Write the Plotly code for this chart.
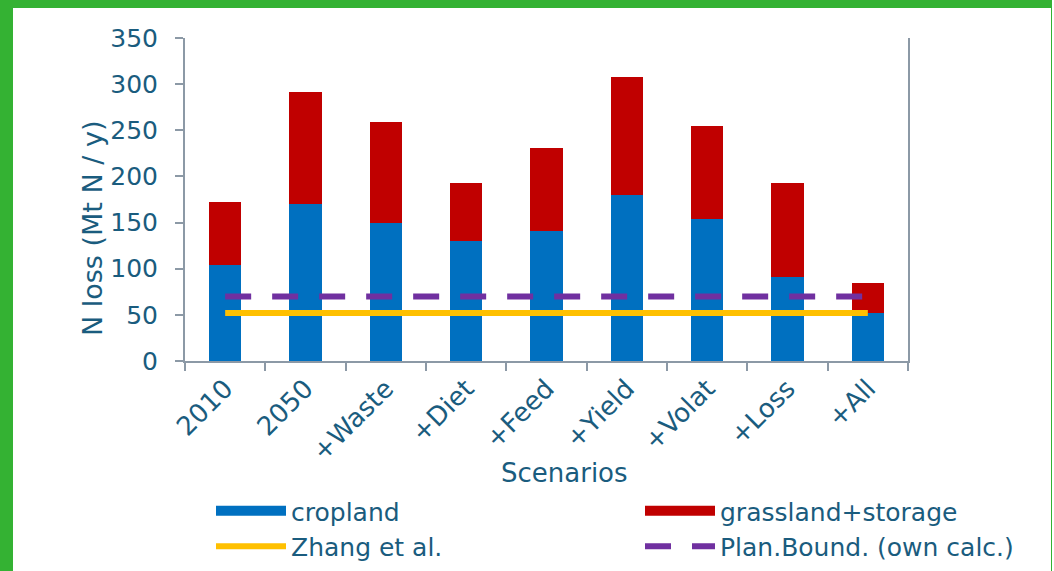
import plotly.graph_objects as go

scenarios = ["2010", "2050", "+Waste", "+Diet", "+Feed", "+Yield", "+Volat", "+Loss", "+All"]
cropland = [104, 170, 149, 130, 141, 180, 154, 91, 52]
grassland_storage = [68, 122, 110, 63, 90, 128, 101, 102, 32]
zhang = [52] * len(scenarios)
plan_bound = [70] * len(scenarios)

y_ticks = [0, 50, 100, 150, 200, 250, 300, 350]

TXT = "#1A5C7E"
AX = "#8C99A6"
BLUE = "#0070C0"
RED = "#C00000"
YEL = "#FFC000"
PUR = "#7030A0"
GREEN = "#34B233"
FONT = "DejaVu Sans"

W, H = 1054, 571
L, R, T, B = 185, 146, 38, 210
PW, PH = W - L - R, H - T - B

fig = go.Figure()
fig.add_trace(go.Bar(x=scenarios, y=cropland, name="cropland", marker=dict(color=BLUE, line=dict(width=0)),
                     width=0.4, showlegend=False))
fig.add_trace(go.Bar(x=scenarios, y=grassland_storage, name="grassland+storage",
                     marker=dict(color=RED, line=dict(width=0)), width=0.4, showlegend=False))
fig.add_trace(go.Scatter(x=scenarios, y=zhang, mode="lines", name="Zhang et al.",
                         line=dict(color=YEL, width=6), showlegend=False))
fig.add_trace(go.Scatter(x=scenarios, y=plan_bound, mode="lines", name="Plan.Bound. (own calc.)",
                         line=dict(color=PUR, width=6, dash="26px,21px"), showlegend=False))

# legend entries
fig.add_trace(go.Scatter(x=[None], y=[None], mode="lines", name="cropland",
                         line=dict(color=BLUE, width=15), legend="legend"))
fig.add_trace(go.Scatter(x=[None], y=[None], mode="lines", name="Zhang et al.",
                         line=dict(color=YEL, width=6), legend="legend"))
fig.add_trace(go.Scatter(x=[None], y=[None], mode="lines", name="grassland+storage",
                         line=dict(color=RED, width=15), legend="legend2"))
fig.add_trace(go.Scatter(x=[None], y=[None], mode="lines", name="Plan.Bound. (own calc.)",
                         line=dict(color=PUR, width=6, dash="26px,21px"), legend="legend2"))

legend_common = dict(orientation="v", traceorder="normal", itemwidth=70, xanchor="left", yanchor="top",
                     xref="container", yref="container",
                     font=dict(family=FONT, size=25, color=TXT), bgcolor="rgba(0,0,0,0)",
                     tracegroupgap=0, itemclick=False)

fig.update_layout(
    width=W, height=H,
    margin=dict(l=L, r=R, t=T, b=B, pad=0, autoexpand=False),
    paper_bgcolor="white", plot_bgcolor="white",
    barmode="stack",
    font=dict(family=FONT, color=TXT, size=25),
    legend=dict(x=211 / W, y=1 - 488 / H, **legend_common),
    legend2=dict(x=640 / W, y=1 - 488 / H, **legend_common),
    xaxis=dict(type="category", tickson="boundaries", ticks="outside", ticklen=8, tickwidth=2, tickcolor=AX,
               showline=True, linecolor=AX, linewidth=2, showgrid=False, zeroline=False, automargin=False,
               tickangle=-45, tickfont=dict(family=FONT, size=26, color=TXT)),
    yaxis=dict(range=[0, 350], tickvals=y_ticks, ticks="outside", ticklen=8, tickwidth=2, tickcolor=AX,
               showline=True, linecolor=AX, linewidth=2, mirror=True, showgrid=False, zeroline=False,
               automargin=False, ticklabelstandoff=12, tickfont=dict(family=FONT, size=25, color=TXT)),
    annotations=[
        dict(text="Scenarios", xref="paper", yref="paper", x=(564 - L) / PW, y=(T + PH - 473) / PH,
             xanchor="center", yanchor="middle", showarrow=False, font=dict(family=FONT, size=26, color=TXT)),
        dict(text="N loss (Mt N / y)", xref="paper", yref="paper", x=(92 - L) / PW, y=(T + PH - 228) / PH,
             xanchor="center", yanchor="middle", textangle=-90, showarrow=False,
             font=dict(family=FONT, size=27, color=TXT)),
    ],
    shapes=[
        dict(type="rect", xref="paper", yref="paper", x0=-0.3, x1=(1052 - L) / PW, y0=(T + PH - 8) / PH,
             y1=(T + PH + 5) / PH, fillcolor=GREEN, line=dict(width=0), layer="above"),
        dict(type="rect", xref="paper", yref="paper", x0=(-5 - L) / PW, x1=(13 - L) / PW,
             y0=-1, y1=2, fillcolor=GREEN, line=dict(width=0), layer="above"),
        dict(type="rect", xref="paper", yref="paper", x0=(1051 - L) / PW, x1=(1052 - L) / PW,
             y0=-1, y1=(T + PH - 8) / PH, fillcolor=GREEN, line=dict(width=0), layer="above"),
    ],
)

fig.write_html("out.html")
